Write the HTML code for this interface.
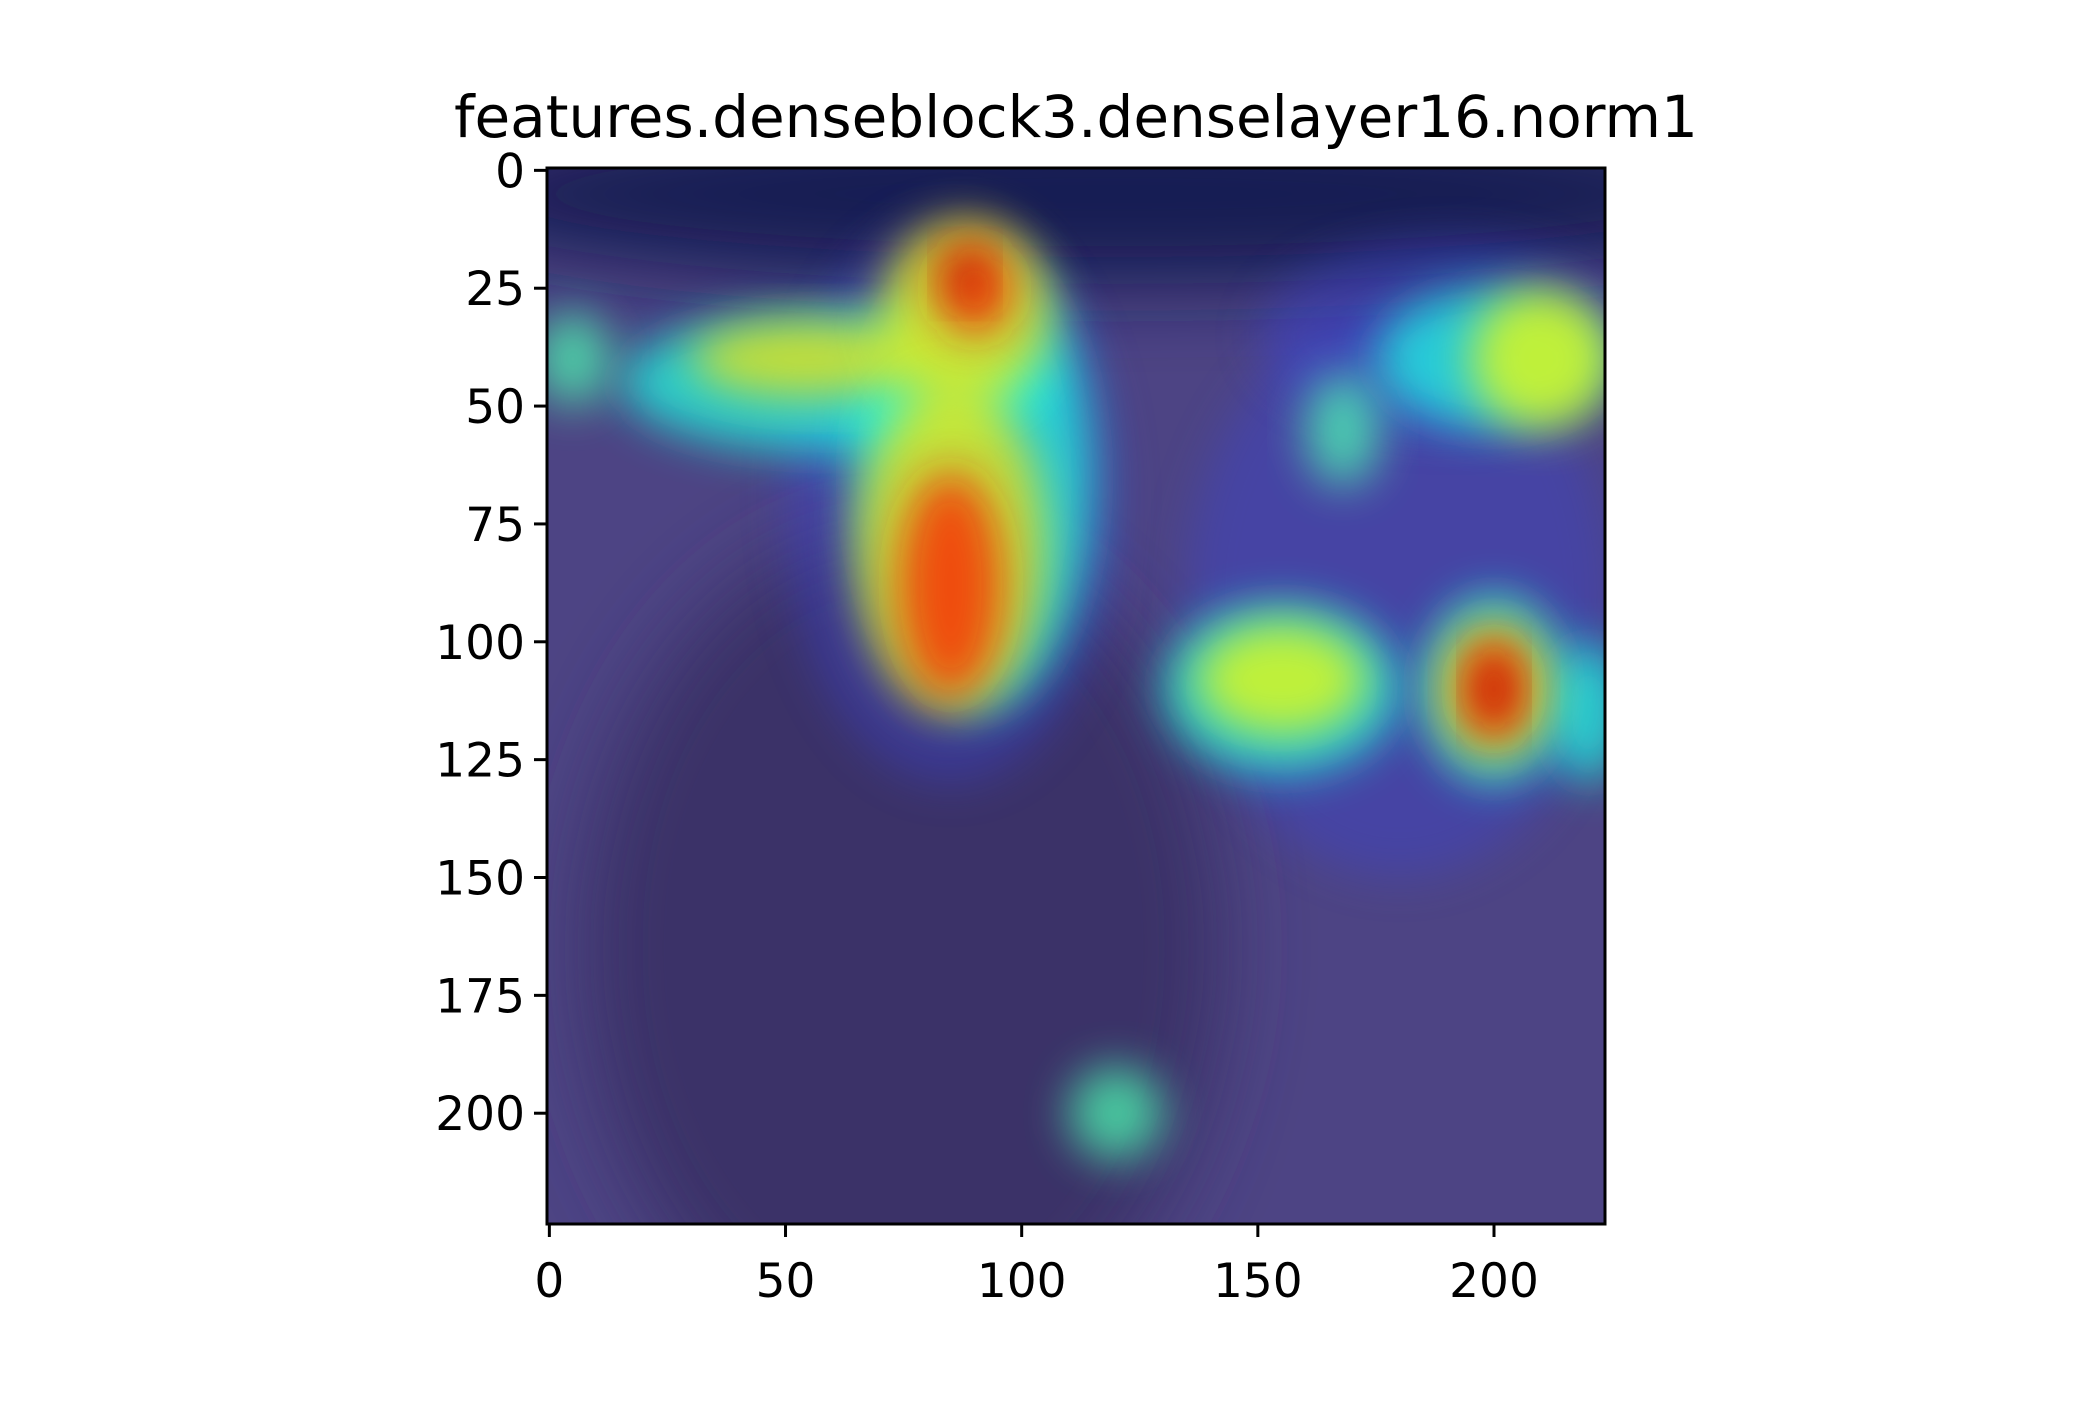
<!DOCTYPE html>
<html><head><meta charset="utf-8"><style>
html,body{margin:0;padding:0;background:#fff}
svg text{font-family:"DejaVu Sans","Liberation Sans",sans-serif;fill:#000}
</style></head><body>
<svg id="chart" width="2100" height="1400" viewBox="0 0 2100 1400" xmlns="http://www.w3.org/2000/svg">
<defs>
<filter id="blur" x="-50%" y="-50%" width="200%" height="200%"><feGaussianBlur stdDeviation="22"/></filter>
<filter id="blur2" x="-50%" y="-50%" width="200%" height="200%"><feGaussianBlur stdDeviation="40"/></filter>
<clipPath id="clip"><rect x="547" y="168" width="1058" height="1056"/></clipPath>
</defs>
<text x="1076" y="137" font-size="58" text-anchor="middle">features.denseblock3.denselayer16.norm1</text>
<g id="img" clip-path="url(#clip)"></g>
<g id="axes"></g>
<rect x="547" y="168" width="1058" height="1056" fill="none" stroke="#000" stroke-width="3"/>
</svg>
<script>
const yTicks=[0,25,50,75,100,125,150,175,200];
const xTicks=[0,50,100,150,200];
const blobX=[85,180,190,60,90,200,168,155,200,120,5,220,55,88,85,210,155,200,85,90,200,200,88];
const blobY=[70,90,35,45,65,40,55,110,110,200,40,115,40,30,80,40,108,110,88,25,110,110,22];
const blobRx=[35,45,40,45,25,25,8,25,15,10,8,8,25,18,20,15,18,12,11,8,7,4,4];
const blobRy=[60,60,20,15,50,15,12,18,20,10,10,15,8,20,35,15,12,15,24,10,11,8,5];
const blobLevel=[0.25,0.25,0.22,0.4,0.4,0.4,0.45,0.4,0.4,0.45,0.45,0.4,0.65,0.65,0.65,0.62,0.62,0.65,0.85,0.85,0.85,0.95,0.95];
const NS="http://www.w3.org/2000/svg";
const X0=547,Y0=168,PX=1058/224,PY=1056/224;
function sx(d){return X0+(d+0.5)*PX;}
function sy(d){return Y0+(d+0.5)*PY;}
function jet(v){
  const r=Math.max(0,Math.min(1,1.5-Math.abs(4*v-3)));
  const g=Math.max(0,Math.min(1,1.5-Math.abs(4*v-2)));
  const b=Math.max(0,Math.min(1,1.5-Math.abs(4*v-1)));
  return `rgb(${Math.round(r*255)},${Math.round(g*255)},${Math.round(b*255)})`;
}
function mk(tag,attrs,parent){const e=document.createElementNS(NS,tag);for(const k in attrs)e.setAttribute(k,attrs[k]);parent.appendChild(e);return e;}
const img=document.getElementById('img');
mk('rect',{x:X0,y:Y0,width:1058,height:1056,fill:'#4d4484'},img);
const skyEl=mk('ellipse',{cx:sx(120),cy:sy(5),rx:700,ry:90,fill:'#141a52',filter:'url(#blur2)'},img);


const bearEl=mk('ellipse',{cx:sx(75),cy:sy(165),rx:320,ry:420,fill:'#3a3268',filter:'url(#blur2)'},img);


for(let i=0;i<blobX.length;i++){
  const lv=blobLevel[i];
  const col=lv<0.3?'#3b45d8':jet(lv);
  const op=lv<0.3?0.38:(lv>0.8?0.75:0.72);
  const e=mk('ellipse',{cx:sx(blobX[i]),cy:sy(blobY[i]),rx:blobRx[i]*PX,ry:blobRy[i]*PY,fill:col,opacity:op,filter:'url(#blur)'},img);
  
  
}
const axes=document.getElementById('axes');
yTicks.forEach(t=>{
  const y=sy(t);
  const l=mk('line',{x1:X0-13,x2:X0,y1:y,y2:y,stroke:'#000','stroke-width':3},axes);
  
  
  const tx=mk('text',{x:X0-22,y:y+17,'font-size':47,'text-anchor':'end'},axes);
  tx.textContent=t;
  
  
});
xTicks.forEach(t=>{
  const x=sx(t);
  const l=mk('line',{x1:x,x2:x,y1:Y0+1056,y2:Y0+1056+13,stroke:'#000','stroke-width':3},axes);
  
  
  const tx=mk('text',{x:x,y:Y0+1056+73,'font-size':47,'text-anchor':'middle'},axes);
  tx.textContent=t;
  
  
});
</script>
</body></html>
